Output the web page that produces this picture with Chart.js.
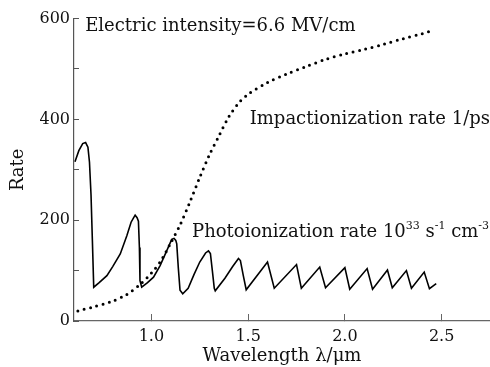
<!DOCTYPE html>
<html>
<head>
<meta charset="utf-8">
<script src="https://cdn.jsdelivr.net/npm/chart.js@4/dist/chart.umd.min.js"></script>
<style>
html,body{margin:0;padding:0;background:#fff;}
#wrap{width:490px;height:367px;}
</style>
</head>
<body>
<div id="wrap"><canvas id="c" width="490" height="367"></canvas></div>
<script>
// Photoionization rate (10^33 s^-1 cm^-3) vs wavelength (µm)
const photoX = [0.605,0.625,0.645,0.66,0.672,0.68,0.688,0.695,0.702,0.73,0.77,0.80,0.839,0.873,0.895,0.907,0.916,0.926,0.933,0.938,0.941,0.950,0.98,1.011,1.045,1.079,1.105,1.117,1.126,1.131,1.139,1.148,1.162,1.19,1.22,1.25,1.28,1.295,1.305,1.315,1.325,1.33,1.38,1.42,1.45,1.46,1.475,1.49,1.60,1.635,1.75,1.775,1.87,1.90,2.0,2.025,2.115,2.143,2.22,2.245,2.318,2.344,2.41,2.437,2.472];
const photoY = [316,338,352,354,345,315,250,160,67,76,90,108,133,169,196,204,210,205,198,146,80,67,76,87,110,139,162,164,160,153,106,61,54,65,92,117,135,139,134,100,65,60,85,108,124,120,90,62,117,65,112,65,107,66,106,63,104,63,101,66,100,65,97,64,74];
// Impact ionization rate (1/ps) vs wavelength (µm)
const impactX = [0.62,0.70,0.79,0.87,0.94,1.0,1.05,1.10,1.15,1.20,1.25,1.30,1.35,1.40,1.45,1.50,1.60,1.70,1.80,1.90,2.00,2.10,2.20,2.30,2.40,2.46];
const impactY = [20,28,38,52,72,95,120,155,192,237,285,330,368,405,432,450,473,490,505,519,530,539,549,560,570,577];
const xTicks = [1.0,1.5,2.0,2.5];
const yTicks = [0,100,200,300,400,500,600];
const yLabelled = [0,200,400,600];
// annotation texts: [text, superscript?] segments, anchored in data coordinates
const notes = [
  {parts:[['Electric intensity=6.6 MV/cm',false]], x:0.658, y:585},
  {parts:[['Impactionization rate 1/ps',false]], x:1.508, y:400},
  {parts:[['Photoionization rate 10',false],['33',true],[' s',false],['-1',true],[' cm',false],['-3',true]], x:1.21, y:176}
];

const FONT = 'DejaVu Serif';
const NOTE_SIZE = 18;
const toPts = (xs, ys) => xs.map((x,i)=>({x:x, y:ys[i]}));

const notePlugin = {
  id:'notes',
  afterDatasetsDraw(chart){
    const ctx = chart.ctx, xs = chart.scales.x, ys = chart.scales.y;
    ctx.save();
    ctx.fillStyle = '#111';
    ctx.textAlign = 'left';
    ctx.textBaseline = 'middle';
    notes.forEach(n => {
      let px = xs.getPixelForValue(n.x);
      const py = ys.getPixelForValue(n.y);
      n.parts.forEach(([t, sup]) => {
        ctx.font = (sup ? Math.round(NOTE_SIZE*0.6) : NOTE_SIZE) + 'px "' + FONT + '"';
        ctx.fillText(t, px, sup ? py - NOTE_SIZE*0.35 : py);
        px += ctx.measureText(t).width;
      });
    });
    ctx.restore();
  }
};

new Chart(document.getElementById('c'), {
  type:'line',
  data:{
    datasets:[
      {data:toPts(photoX,photoY), borderColor:'#000', borderWidth:1.6, pointRadius:0, tension:0, fill:false},
      {data:toPts(impactX,impactY), borderColor:'#000', borderWidth:3, borderDash:[0,6.5], borderCapStyle:'round', pointRadius:0, tension:0.3, fill:false}
    ]
  },
  options:{
    responsive:false,
    animation:false,
    layout:{padding:{top:15,right:0,left:0,bottom:0}},
    plugins:{legend:{display:false}, tooltip:{enabled:false}},
    scales:{
      x:{
        type:'linear', min:0.6, max:2.75,
        afterBuildTicks(s){ s.ticks = xTicks.map(v=>({value:v})); },
        afterFit(s){ s.height = 46; },
        border:{color:'#666', width:1.2},
        grid:{drawOnChartArea:false, drawTicks:true, tickLength:-7, color:'#666'},
        ticks:{color:'#111', font:{family:FONT, size:16}, padding:13, maxRotation:0,
          callback:(v)=>Number(v).toFixed(1)},
        title:{display:true, text:'Wavelength λ/μm', color:'#111', font:{family:FONT, size:18}, padding:{top:0,bottom:0}}
      },
      y:{
        type:'linear', min:0, max:600,
        afterBuildTicks(s){ s.ticks = yTicks.map(v=>({value:v})); },
        afterFit(s){ s.width = 74; },
        border:{color:'#555', width:1.2},
        grid:{drawOnChartArea:false, drawTicks:true, tickLength:-5, color:'#555'},
        ticks:{color:'#111', font:{family:FONT, size:16}, padding:9,
          callback:(v)=> yLabelled.includes(v) ? String(v) : ''},
        title:{display:true, text:'Rate', color:'#111', font:{family:FONT, size:18}, padding:{top:8,bottom:0}}
      }
    }
  },
  plugins:[notePlugin]
});
</script>
</body>
</html>
